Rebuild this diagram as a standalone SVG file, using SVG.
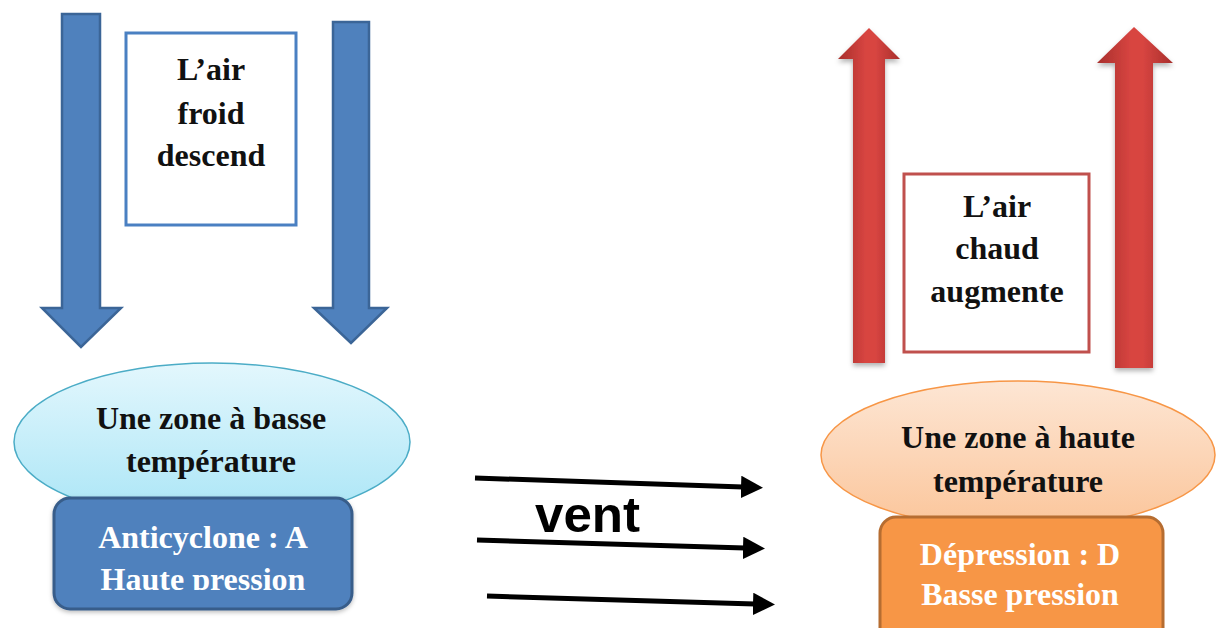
<svg xmlns="http://www.w3.org/2000/svg" width="1220" height="628" viewBox="0 0 1220 628">
  <style>
    .lbl { font-family: "Liberation Serif", "Times New Roman", serif; font-weight: bold; font-size: 32px; text-anchor: middle; fill: #111; }
    .wlbl { font-family: "Liberation Serif", "Times New Roman", serif; font-weight: bold; font-size: 32px; text-anchor: middle; fill: #ffffff; }
    .blue-arrow { fill: #4f81bd; stroke: #3b6597; stroke-width: 2.5; stroke-linejoin: miter; }
    .red-arrow { fill: url(#redGrad); stroke: none; filter: url(#shadow); }
    .wind { stroke: #000; stroke-width: 5; fill: none; marker-end: url(#head); }
  </style>
  <defs>
    <linearGradient id="redGrad" x1="0" y1="0" x2="1" y2="0">
      <stop offset="0" stop-color="#a82f2c"/>
      <stop offset="0.45" stop-color="#d84541"/>
      <stop offset="0.6" stop-color="#d84541"/>
      <stop offset="1" stop-color="#a82f2c"/>
    </linearGradient>
    <linearGradient id="cyanGrad" x1="0" y1="0" x2="0" y2="1">
      <stop offset="0" stop-color="#e3f7fd"/>
      <stop offset="1" stop-color="#a9e5f6"/>
    </linearGradient>
    <linearGradient id="peachGrad" x1="0" y1="0" x2="0" y2="1">
      <stop offset="0" stop-color="#fde6d4"/>
      <stop offset="1" stop-color="#fbc59a"/>
    </linearGradient>
    <filter id="shadow" x="-30%" y="-10%" width="160%" height="120%">
      <feDropShadow dx="0" dy="3" stdDeviation="2.5" flood-color="#000" flood-opacity="0.3"/>
    </filter>
    <filter id="softShadow" x="-10%" y="-10%" width="120%" height="130%">
      <feDropShadow dx="0" dy="2" stdDeviation="2" flood-color="#000" flood-opacity="0.25"/>
    </filter>
    <marker id="head" markerWidth="5" markerHeight="5" refX="0.4" refY="2.25" orient="auto" markerUnits="strokeWidth">
      <path d="M0,0 L4.4,2.25 L0,4.5 Z" fill="#000"/>
    </marker>
    <clipPath id="clipA">
      <rect x="50" y="490" width="310" height="100"/>
    </clipPath>
  </defs>

  <!-- Left side: cold air descending -->
  <g id="arrow-down-1">
    <path class="blue-arrow" d="M62,14 L100,14 L100,308 L121,308 L81,347 L42,308 L62,308 Z"/>
  </g>
  <g id="arrow-down-2">
    <path class="blue-arrow" d="M333,22 L369,22 L369,308 L387,308 L351,343 L314,308 L333,308 Z"/>
  </g>
  <g id="box-air-froid">
    <rect x="126" y="33" width="170" height="192" fill="#ffffff" stroke="#4a80c2" stroke-width="3"/>
    <text class="lbl" x="211" y="80">L’air</text>
    <text class="lbl" x="211" y="124">froid</text>
    <text class="lbl" x="211" y="166">descend</text>
  </g>
  <g id="zone-basse-temperature">
    <ellipse cx="212" cy="442" rx="198" ry="79" fill="url(#cyanGrad)" stroke="#4bacc6" stroke-width="1.5"/>
    <text class="lbl" x="211" y="429">Une zone à basse</text>
    <text class="lbl" x="211" y="472">température</text>
  </g>
  <g id="anticyclone">
    <rect x="54" y="498" width="298" height="111" rx="16" ry="16" fill="#4f81bd" stroke="#385d8a" stroke-width="3" filter="url(#softShadow)"/>
    <text class="wlbl" x="203" y="548">Anticyclone : A</text>
    <text class="wlbl" x="203" y="590" clip-path="url(#clipA)">Haute pression</text>
  </g>

  <!-- Right side: warm air rising -->
  <g id="arrow-up-1">
    <path class="red-arrow" d="M853,363 L885,363 L885,59 L900,59 L869,28 L838,59 L853,59 Z"/>
  </g>
  <g id="arrow-up-2">
    <path class="red-arrow" d="M1115,368 L1153,368 L1153,63 L1173,63 L1134,27 L1097,63 L1115,63 Z"/>
  </g>
  <g id="box-air-chaud">
    <rect x="904" y="174" width="185" height="178" fill="#ffffff" stroke="#c0504d" stroke-width="3"/>
    <text class="lbl" x="997" y="217">L’air</text>
    <text class="lbl" x="997" y="259">chaud</text>
    <text class="lbl" x="997" y="302">augmente</text>
  </g>
  <g id="zone-haute-temperature">
    <ellipse cx="1018" cy="455" rx="197" ry="74" fill="url(#peachGrad)" stroke="#f79646" stroke-width="1.5"/>
    <text class="lbl" x="1018" y="448">Une zone à haute</text>
    <text class="lbl" x="1018" y="492">température</text>
  </g>
  <g id="depression">
    <rect x="880" y="517" width="283" height="130" rx="16" ry="16" fill="#f79646" stroke="#b66d31" stroke-width="3"/>
    <text class="wlbl" x="1020" y="565">Dépression : D</text>
    <text class="wlbl" x="1020" y="605">Basse pression</text>
  </g>

  <!-- Wind connectors -->
  <g id="connectors">
    <line class="wind" x1="475" y1="478" x2="743" y2="487"/>
    <line class="wind" x1="477" y1="540" x2="745" y2="548"/>
    <line class="wind" x1="487" y1="596" x2="755" y2="604"/>
  </g>
  <g id="label-vent">
    <text x="535" y="532" font-family="'Liberation Sans', Arial, sans-serif" font-weight="bold" font-size="50" textLength="105" lengthAdjust="spacingAndGlyphs" fill="#000">vent</text>
  </g>
</svg>
